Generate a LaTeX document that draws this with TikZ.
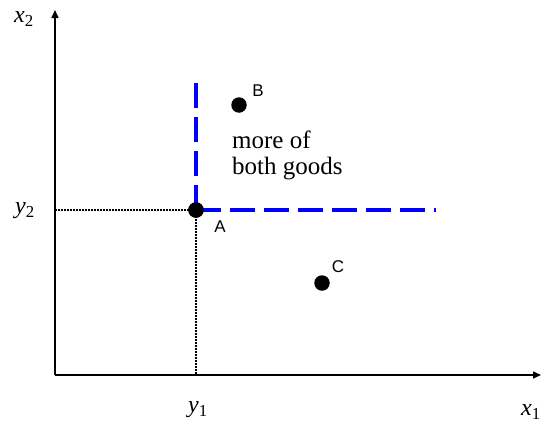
\documentclass[tikz,border=0pt]{standalone}
\usepackage{fontspec}
\setmainfont{Liberation Serif}
\newfontfamily\arialfont{Liberation Sans}
\usetikzlibrary{arrows.meta}
\begin{document}
\begin{tikzpicture}[x=1pt,y=-1pt,
  axis/.style={line width=1.6pt,-{Triangle[length=8pt,width=7pt]}},
  guide/.style={line width=1.8pt,dash pattern=on 1.6pt off 1.4pt},
  frontier/.style={blue,line width=3.6pt,dash pattern=on 25pt off 9pt},
  dotpt/.style={circle,fill=black,inner sep=0pt,minimum size=15.5pt},
  ptlabel/.style={font=\arialfont\fontsize{17}{19}\selectfont,inner sep=0pt},
  axlabel/.style={font=\fontsize{24}{26}\selectfont,inner sep=0pt},
  note/.style={font=\fontsize{25}{26}\selectfont,align=left,inner sep=0pt}]
\useasboundingbox (0,0) rectangle (542,426);
\coordinate (O) at (55,375);
\coordinate (ytop) at (55,10);
\coordinate (xend) at (541,375);
\coordinate (yA) at (55,210);
\coordinate (xA) at (196,375);
\coordinate (vtop) at (196,76);
\coordinate (hend) at (436,210);
\draw[axis] (O) -- (ytop);
\draw[axis] (O) -- (xend);
\node[dotpt] (A) at (196,210) {};
\node[dotpt] (B) at (239,105) {};
\node[dotpt] (C) at (322,283) {};
\draw[guide] (yA) -- (A.center);
\draw[guide] (A.center) -- (xA);
\draw[frontier] (A.center) -- (vtop);
\draw[frontier] (A.center) -- (hend);
\node[dotpt] at (A) {};
\node[ptlabel] (lA) at (220,227) {A};
\node[ptlabel] (lB) at (258,91) {B};
\node[ptlabel] (lC) at (338,267) {C};
\node[note,anchor=north west] (txt) at (232,131) {more of\\both goods};
\node[axlabel] (x2) at (24,19) {\itshape x\textsubscript{\upshape 2}};
\node[axlabel] (y2) at (25,211) {\itshape y\textsubscript{\upshape 2}};
\node[axlabel] (y1) at (198,410) {\itshape y\textsubscript{\upshape 1}};
\node[axlabel] (x1) at (531,412) {\itshape x\textsubscript{\upshape 1}};
\end{tikzpicture}
\end{document}
